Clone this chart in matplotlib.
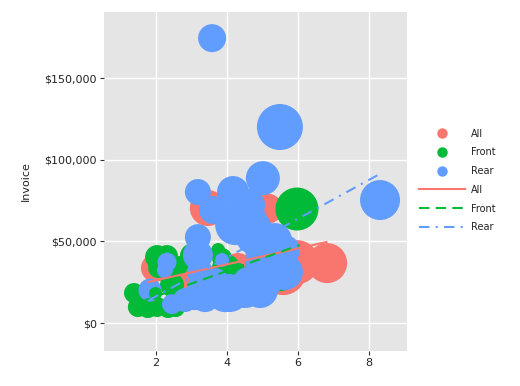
import matplotlib.pyplot as plt
from matplotlib.lines import Line2D
from matplotlib.ticker import FuncFormatter

plt.rcParams["font.family"] = "DejaVu Sans"

# engine size, invoice, bubble diameter (pixels at dpi 100)
all_x = [6.82, 5.97, 5.58, 5.15, 3.46, 1.97, 2.62, 4.31]
all_y = [36700, 37300, 31200, 70000, 70400, 33700, 29400, 33700]
all_size = [40, 44, 46, 30, 36, 28, 36, 30]

front_x = [5.97, 1.38, 1.49, 1.77, 2.03, 2.34, 2.56, 2.03, 2.31, 2.62, 2.45, 3.97, 4.25, 3.04, 5.49, 1.70, 2.06, 3.75, 3.86]
front_y = [69800, 18400, 9800, 9200, 9800, 9200, 9200, 40400, 41000, 34900, 23300, 33700, 31200, 41000, 31200, 16000, 33700, 44700, 39800]
front_size = [43, 20, 20, 20, 20, 20, 18, 24, 22, 20, 24, 28, 20, 26, 38, 24, 20, 14, 20]

rear_x = [3.58, 5.49, 8.31, 3.18, 4.17, 5.01, 3.61, 4.51, 4.65, 4.23, 4.79, 3.18, 3.18, 4.99, 5.27,
          5.07, 5.63, 4.08, 4.93, 4.51, 3.94, 3.38, 3.10, 2.45, 3.24, 2.31, 2.25, 1.83, 5.07, 3.66, 3.24,
          2.82, 3.86, 3.66, 4.59, 5.35, 5.63, 4.79, 4.65]
rear_y = [174400, 120000, 75300, 80200, 80200, 88700, 69200, 72200, 72200, 60000, 53900, 52600, 41600, 44700, 44700,
          35500, 31200, 18400, 20200, 20200, 17100, 15900, 15900, 11600, 31200, 37300, 32400, 20200, 26300, 20200, 23300,
          14100, 38600, 25100, 25100, 50800, 44700, 60000, 66100]
rear_size = [28, 46, 40, 26, 32, 34, 28, 34, 30, 40, 40, 26, 30, 34, 46,
             40, 36, 38, 36, 36, 34, 30, 26, 20, 26, 19, 16, 23, 36, 30, 24,
             24, 14, 28, 30, 34, 30, 30, 30]

# one small front bubble sits on top of the rear ones
front_top_x = [1.97]
front_top_y = [18400]
front_top_size = [13]

# fitted lines, end points
all_line_x = [1.78, 6.8]
all_line_y = [25100, 49600]
front_line_x = [1.55, 6.05]
front_line_y = [12900, 47800]
rear_line_x = [1.8, 8.3]
rear_line_y = [14000, 91200]

y_ticks = [0, 50000, 100000, 150000]
x_ticks = [2, 4, 6, 8]

RED = "#F8766D"
GREEN = "#00BA38"
BLUE = "#619CFF"
W, H = 520, 386


def area(diameters):
    return [(d * 0.72) ** 2 for d in diameters]


fig = plt.figure(figsize=(W / 100, H / 100), dpi=100)
ax = fig.add_axes([104 / W, 1 - 351 / H, 303 / W, 339 / H], facecolor="#E5E5E5")

ax.scatter(all_x, all_y, s=area(all_size), color=RED, linewidths=0, zorder=2)
ax.scatter(front_x, front_y, s=area(front_size), color=GREEN, linewidths=0, zorder=2)
ax.scatter(rear_x, rear_y, s=area(rear_size), color=BLUE, linewidths=0, zorder=2)
ax.scatter(front_top_x, front_top_y, s=area(front_top_size), color=GREEN, linewidths=0, zorder=2)

ax.plot(all_line_x, all_line_y, color=RED, lw=1.5, zorder=3)
ax.plot(front_line_x, front_line_y, color=GREEN, lw=1.5, dashes=(5, 3), zorder=3)
ax.plot(rear_line_x, rear_line_y, color=BLUE, lw=1.5, dashes=(5, 3, 1, 3), zorder=3)

ax.set_xlim(0.535, 9.07)
ax.set_ylim(-17100, 190400)
ax.set_xticks(x_ticks)
ax.set_yticks(y_ticks)
ax.yaxis.set_major_formatter(FuncFormatter(lambda v, _: f"${v:,.0f}"))
ax.grid(color="white", lw=1)
ax.set_axisbelow(True)
ax.tick_params(labelsize=8, length=3, width=0.8, color="#333333", labelcolor="#222222", pad=2)
for spine in ax.spines.values():
    spine.set_visible(False)
ax.set_ylabel("Invoice", fontsize=8, color="#222222", labelpad=10)

handles = [
    Line2D([], [], ls="", marker="o", ms=7.5, mew=0, color=RED),
    Line2D([], [], ls="", marker="o", ms=7.5, mew=0, color=GREEN),
    Line2D([], [], ls="", marker="o", ms=7.5, mew=0, color=BLUE),
    Line2D([], [], color=RED, lw=1.5),
    Line2D([], [], color=GREEN, lw=1.5, dashes=(5, 3)),
    Line2D([], [], color=BLUE, lw=1.5, dashes=(5, 3, 1, 3)),
]
labels = ["All", "Front", "Rear", "All", "Front", "Rear"]
fig.legend(handles, labels, loc="center left", bbox_to_anchor=(419 / W, 1 - 180.5 / H), frameon=False,
           fontsize=7, handlelength=4.7, handletextpad=0.6, labelspacing=0.9, borderpad=0, borderaxespad=0,
           labelcolor="#222222")

fig.savefig("out.png", dpi=100)
